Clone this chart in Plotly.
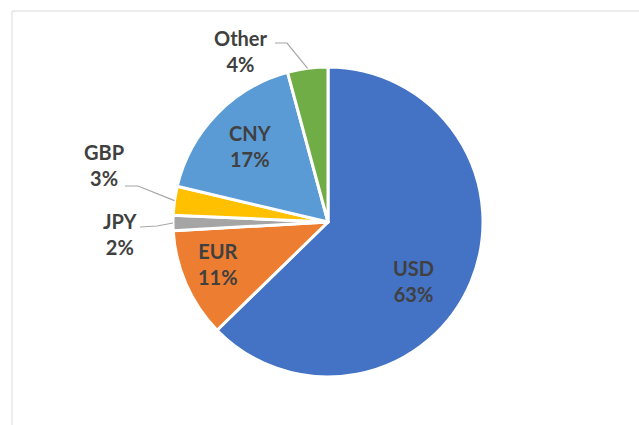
import math
import plotly.graph_objects as go

W, H = 639, 425

currencies = ["USD", "EUR", "JPY", "GBP", "CNY", "Other"]
shares = [62.7, 11.4, 1.6, 3.0, 17.1, 4.2]
colors = ["#4472C4", "#ED7D31", "#A5A5A5", "#FFC000", "#5B9BD5", "#70AD47"]

# pie geometry (pixels)
cx, cy, r = 328, 222, 155


def px(x, y):
    return x / W, 1 - y / H


total = sum(shares)
pct = [s / total for s in shares]

x0, y0 = px(cx - r, cy + r)
x1, y1 = px(cx + r, cy - r)

fig = go.Figure(go.Pie(
    labels=currencies, values=shares, textinfo="none",
    sort=False, direction="clockwise", rotation=0,
    marker=dict(colors=colors, line=dict(color="white", width=3)),
    domain=dict(x=[x0, x1], y=[y0, y1]),
    hoverinfo="label+percent",
))

# label centre and, for outside labels, the leader line start/elbow (pixels)
label_pos = {
    "USD": ((413, 281), None),
    "EUR": ((218, 264), None),
    "CNY": ((250, 146), None),
    "Other": ((241, 51), [(275, 43), (287, 43)]),
    "GBP": ((104, 165), [(125, 186), (138, 186)]),
    "JPY": ((120, 234), [(140, 227), (157, 226)]),
}

shapes = []
annotations = []
cum = 0
for c, p in zip(currencies, pct):
    mid = (cum + p / 2) * 2 * math.pi
    cum += p
    (tx, ty), pts = label_pos[c]
    if pts:
        ex, ey = cx + r * math.sin(mid), cy - r * math.cos(mid)
        pts = pts + [(ex, ey)]
        path = "M " + " L ".join(f"{px(a, b)[0]},{px(a, b)[1]}" for a, b in pts)
        shapes.append(dict(type="path", path=path, xref="paper", yref="paper",
                           line=dict(color="#A6A6A6", width=1.2)))
    ax, ay = px(tx, ty)
    annotations.append(dict(x=ax, y=ay, xref="paper", yref="paper",
                            xanchor="center", yanchor="middle",
                            text=f"{c}<br>{p:.0%}", showarrow=False,
                            font=dict(family="Lato", size=20, color="#404040", weight="bold")))

# chart frame (left and top edges visible)
fx, fy = px(12, 11)
shapes.append(dict(type="line", xref="paper", yref="paper", x0=fx, y0=fy, x1=1.01, y1=fy,
                   line=dict(color="#D9D9D9", width=1)))
shapes.append(dict(type="line", xref="paper", yref="paper", x0=fx, y0=fy, x1=fx, y1=-0.01,
                   line=dict(color="#D9D9D9", width=1)))

fig.update_layout(
    width=W, height=H,
    margin=dict(l=0, r=0, t=0, b=0),
    paper_bgcolor="white",
    showlegend=False,
    shapes=shapes,
    annotations=annotations,
)

fig.write_html("out.html", config={"displayModeBar": False},
               post_script="document.body.style.margin='0';")
